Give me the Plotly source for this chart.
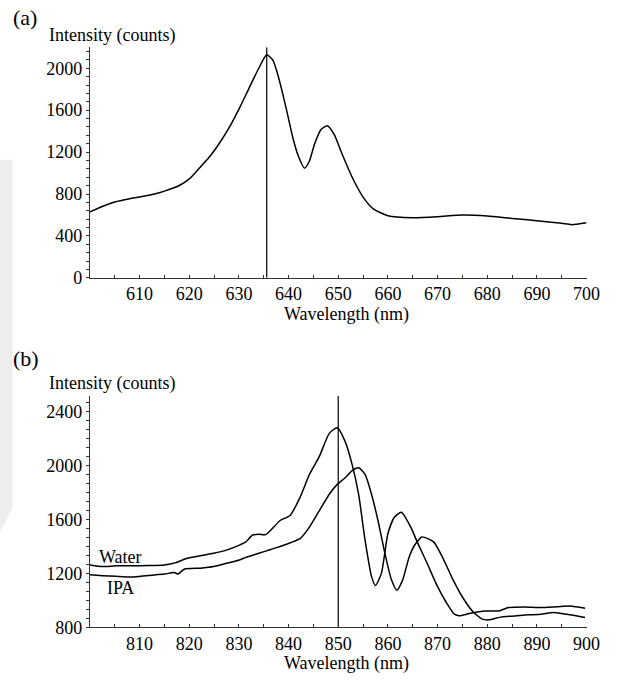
import plotly.graph_objects as go

# ---- Panel (a) data ----
wl_a = [600, 603, 605, 608, 610, 613, 615, 618, 620, 622, 624, 626, 628, 630, 632, 634, 635.6,
        636.8, 637.7, 638.6, 639.6, 640.9, 641.9, 643.2, 644.2, 645.2, 646.5, 647.8, 649.2,
        650.8, 652.8, 655, 657, 660, 665, 670, 675, 680, 685, 690, 695, 697, 700]
int_a = [630, 690, 724, 755, 771, 800, 828, 881, 944, 1045, 1150, 1280, 1430, 1610, 1806, 2000, 2128,
         2080, 1960, 1800, 1600, 1330, 1170, 1047, 1115, 1273, 1414, 1452, 1367,
         1179, 960, 771, 661, 593, 574, 583, 599, 590, 567, 545, 520, 508, 527]
marker_a = 635.6

# ---- Panel (b) data ----
wl_water = [800, 802.6, 805.2, 808.5, 811.7, 815, 817.3, 819.6, 822.2, 824.9, 827.5, 830.1,
            831.4, 832.7, 834, 835.4, 836.4, 838.3, 840.3, 842.3, 844.2, 846.2, 848.2, 849.8,
            851.4, 852.8, 854.1, 855.4, 856.7, 857.5, 858.7, 860, 861.3, 862.7, 864.6, 865.9,
            867.9, 869.8, 871.8, 873.4, 874.4, 876.4, 879.7, 882.3, 884.3, 887.5, 890.8,
            894.1, 896.7, 899.7]
int_water = [1264, 1252, 1257, 1257, 1259, 1264, 1281, 1313, 1332, 1350, 1374, 1411,
             1435, 1484, 1491, 1489, 1521, 1594, 1631, 1765, 1936, 2070, 2241, 2283,
             2180, 2009, 1789, 1448, 1179, 1111, 1203, 1496, 1618, 1655, 1545, 1435,
             1276, 1118, 983, 898, 886, 903, 922, 922, 947, 952, 947,
             954, 959, 942]

wl_ipa = [800, 802.6, 805.2, 808.5, 811.7, 815, 817, 817.7, 819, 822.2, 824.9, 827.5,
          830.1, 831.4, 834, 836.4, 839.6, 842.3, 844.2, 846.2, 848.2, 849.8, 851.4,
          852.8, 854.1, 855.4, 856.7, 858, 859.4, 860.7, 861.8, 863, 864.3, 865.6,
          866.9, 869.2, 871.1, 873.1, 875.1, 877, 879, 880.3, 882.9, 885.6, 888.2,
          890.8, 893.4, 896.1, 899.7]
int_ipa = [1191, 1184, 1179, 1174, 1186, 1196, 1208, 1196, 1232, 1240, 1252, 1276,
           1301, 1320, 1350, 1379, 1418, 1459, 1545, 1667, 1789, 1862, 1911,
           1965, 1985, 1936, 1789, 1594, 1350, 1155, 1076, 1155, 1325, 1423,
           1472, 1435, 1313, 1155, 1020, 922, 861, 856, 878, 885, 893,
           897, 910, 897, 873]
marker_b = 850

FONT = "Liberation Serif"
W, H = 624, 683

def px_x(p):
    return p / W

def px_y(p):
    return 1 - p / H

fig = go.Figure()

line_style = dict(color="black", width=1.5, shape="spline", smoothing=0.6)
fig.add_trace(go.Scatter(x=wl_a, y=int_a, mode="lines", line=line_style,
                         xaxis="x", yaxis="y", showlegend=False))
fig.add_trace(go.Scatter(x=[marker_a, marker_a], y=[0, 2200], mode="lines",
                         line=dict(color="black", width=1.2),
                         xaxis="x", yaxis="y", showlegend=False))
fig.add_trace(go.Scatter(x=wl_water, y=int_water, mode="lines", line=line_style,
                         xaxis="x2", yaxis="y2", showlegend=False, name="Water"))
fig.add_trace(go.Scatter(x=wl_ipa, y=int_ipa, mode="lines", line=line_style,
                         xaxis="x2", yaxis="y2", showlegend=False, name="IPA"))
fig.add_trace(go.Scatter(x=[marker_b, marker_b], y=[800, 2520], mode="lines",
                         line=dict(color="black", width=1.2),
                         xaxis="x2", yaxis="y2", showlegend=False))

xdom = [px_x(92), px_x(600)]
axis_common = dict(showgrid=False, zeroline=False, showline=True, linecolor="#333",
                   linewidth=1, tickfont=dict(family=FONT, size=18, color="black"),
                   tickcolor="#333", ticklen=3, tickwidth=1)

fig.update_layout(
    width=W, height=H,
    margin=dict(l=0, r=0, t=0, b=0),
    paper_bgcolor="white", plot_bgcolor="white",
    xaxis=dict(domain=xdom, anchor="y", range=[600, 700], tickvals=[610, 620, 630, 640, 650, 660, 670, 680, 690, 700],
               ticks="inside", minor=dict(dtick=5, tick0=600, ticks="inside", ticklen=3, tickcolor="#333"),
               **axis_common),
    yaxis=dict(domain=[px_y(282), px_y(48)], anchor="x", range=[0, 2200],
               tickvals=[0, 400, 800, 1200, 1600, 2000], ticks="outside",
               minor=dict(dtick=80, tick0=0, ticks="outside", ticklen=3, tickcolor="#333"),
               **axis_common),
    xaxis2=dict(domain=xdom, anchor="y2", range=[800, 900], tickvals=[810, 820, 830, 840, 850, 860, 870, 880, 890, 900],
                ticks="inside", minor=dict(dtick=5, tick0=800, ticks="inside", ticklen=3, tickcolor="#333"),
                **axis_common),
    yaxis2=dict(domain=[px_y(636.7), px_y(401.7)], anchor="x2", range=[800, 2520],
                tickvals=[800, 1200, 1600, 2000, 2400], ticks="outside",
                minor=dict(dtick=400 / 6, tick0=800, ticks="outside", ticklen=3, tickcolor="#333"),
                **axis_common),
)

def ann(text, x, y, size=18, xanchor="left"):
    fig.add_annotation(text=text, xref="paper", yref="paper", x=px_x(x), y=px_y(y),
                       xanchor=xanchor, yanchor="middle", showarrow=False,
                       font=dict(family=FONT, size=size, color="black"))

ann("(a)", 11, 18, size=22)
ann("Intensity (counts)", 48, 36)
ann("Wavelength (nm)", 354, 319, xanchor="center")
ann("(b)", 11, 364, size=22)
ann("Intensity (counts)", 48, 389)
ann("Wavelength (nm)", 354, 673, xanchor="center")
ann("Water", 99, 565)
ann("IPA", 107, 597)

# faint watermark band on the left edge
fig.add_shape(type="path", xref="paper", yref="paper",
              path=f"M 0 {px_y(162)} L {px_x(13)} {px_y(162)} L {px_x(13)} {px_y(515)} L 0 {px_y(540)} Z",
              fillcolor="#ededed", line=dict(width=0), layer="below")

fig.write_html("out.html")
